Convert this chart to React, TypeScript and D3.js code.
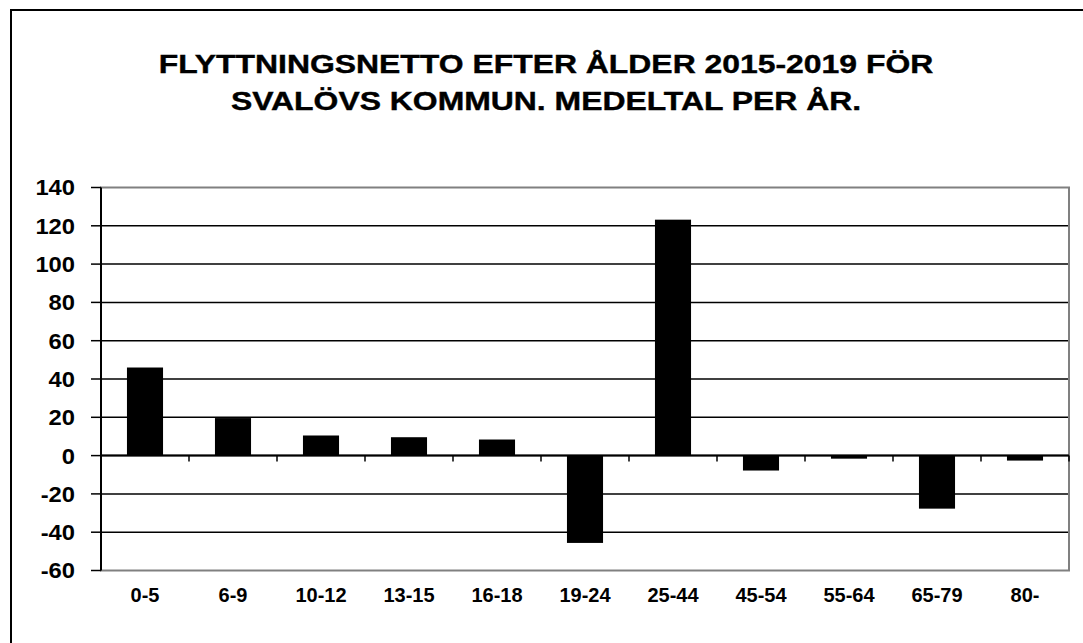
import React, { useEffect, useRef } from 'react';
import * as d3 from 'd3';

const categories = ['0-5', '6-9', '10-12', '13-15', '16-18', '19-24', '25-44', '45-54', '55-64', '65-79', '80-'];
const values = [46, 19.6, 10.5, 9.6, 8.4, -45.6, 123.2, -7.8, -1.6, -27.7, -2.6];
const yTicks = [-60, -40, -20, 0, 20, 40, 60, 80, 100, 120, 140];
const titleLines = ['FLYTTNINGSNETTO EFTER ÅLDER 2015-2019 FÖR', 'SVALÖVS KOMMUN. MEDELTAL PER ÅR.'];

const App = () => {
  const svgRef = useRef<SVGSVGElement>(null);

  useEffect(() => {
    const width = 1083;
    const height = 643;
    const plot = { left: 101, right: 1069, top: 187.5, bottom: 570.5 };
    const font = 'Arial, "Liberation Sans", sans-serif';

    const svg = d3.select(svgRef.current)
      .attr('width', width)
      .attr('height', height);
    svg.selectAll('*').remove();

    svg.append('rect')
      .attr('width', width)
      .attr('height', height)
      .attr('fill', '#fff');

    // outer chart border (right/bottom fall outside the view)
    svg.append('rect')
      .attr('x', 11)
      .attr('y', 10)
      .attr('width', 1100)
      .attr('height', 700)
      .attr('fill', 'none')
      .attr('stroke', '#000')
      .attr('stroke-width', 2);

    // title, stretched horizontally like the original
    svg.append('g')
      .attr('transform', 'translate(546,0) scale(1.227,1)')
      .append('text')
      .attr('text-anchor', 'middle')
      .style('font-family', font)
      .style('font-weight', 'bold')
      .style('font-size', '26px')
      .style('stroke', '#000')
      .style('stroke-width', 0.4)
      .selectAll('tspan')
      .data(titleLines)
      .enter()
      .append('tspan')
      .attr('x', 0)
      .attr('y', (d, i) => 73.5 + i * 36.5)
      .text(d => d);

    const x = d3.scaleBand()
      .domain(categories)
      .range([plot.left, plot.right])
      .paddingInner(0.59)
      .paddingOuter(0.295);

    const y = d3.scaleLinear()
      .domain([-60, 140])
      .range([plot.bottom, plot.top]);

    // gridlines
    svg.append('g')
      .selectAll('line')
      .data(yTicks.filter(t => t !== -60 && t !== 140))
      .enter()
      .append('line')
      .attr('x1', plot.left)
      .attr('x2', plot.right)
      .attr('y1', d => y(d))
      .attr('y2', d => y(d))
      .attr('stroke', '#000')
      .attr('stroke-width', 1.5);

    // plot area border (gray)
    svg.append('rect')
      .attr('x', plot.left)
      .attr('y', plot.top)
      .attr('width', plot.right - plot.left)
      .attr('height', plot.bottom - plot.top)
      .attr('fill', 'none')
      .attr('stroke', '#808080')
      .attr('stroke-width', 2);

    // bars
    svg.append('g')
      .selectAll('rect')
      .data(values)
      .enter()
      .append('rect')
      .attr('x', (d, i) => x(categories[i]) as number)
      .attr('width', x.bandwidth())
      .attr('y', d => y(Math.max(0, d)))
      .attr('height', d => Math.abs(y(d) - y(0)))
      .attr('fill', '#000');

    // y axis
    const yAxis = svg.append('g');
    yAxis.append('line')
      .attr('x1', plot.left)
      .attr('x2', plot.left)
      .attr('y1', plot.top)
      .attr('y2', plot.bottom)
      .attr('stroke', '#000')
      .attr('stroke-width', 2);
    yAxis.selectAll('line.tick')
      .data(yTicks)
      .enter()
      .append('line')
      .attr('class', 'tick')
      .attr('x1', plot.left - 10)
      .attr('x2', plot.left)
      .attr('y1', d => y(d))
      .attr('y2', d => y(d))
      .attr('stroke', '#000')
      .attr('stroke-width', 1.5);
    yAxis.selectAll('text')
      .data(yTicks)
      .enter()
      .append('text')
      .attr('transform', d => `translate(75,${y(d)}) scale(1.08,1)`)
      .attr('dy', '0.36em')
      .attr('text-anchor', 'end')
      .style('font-family', font)
      .style('font-weight', 'bold')
      .style('font-size', '22px')
      .text(d => d);

    // zero line with category ticks
    const xAxis = svg.append('g');
    xAxis.append('line')
      .attr('x1', plot.left)
      .attr('x2', plot.right)
      .attr('y1', y(0))
      .attr('y2', y(0))
      .attr('stroke', '#000')
      .attr('stroke-width', 2);
    const boundaries = categories.map(c => (x(c) as number) + x.bandwidth() / 2 + x.step() / 2);
    xAxis.selectAll('line.tick')
      .data(boundaries)
      .enter()
      .append('line')
      .attr('class', 'tick')
      .attr('x1', d => d)
      .attr('x2', d => d)
      .attr('y1', y(0))
      .attr('y2', y(0) + 6)
      .attr('stroke', '#000')
      .attr('stroke-width', 1.5);
    xAxis.selectAll('text')
      .data(categories)
      .enter()
      .append('text')
      .attr('x', d => (x(d) as number) + x.bandwidth() / 2)
      .attr('y', 602)
      .attr('text-anchor', 'middle')
      .style('font-family', font)
      .style('font-weight', 'bold')
      .style('font-size', '20px')
      .text(d => d);
  }, []);

  return <svg ref={svgRef} style={{ position: 'absolute', left: 0, top: 0 }}></svg>;
};

export default App;
